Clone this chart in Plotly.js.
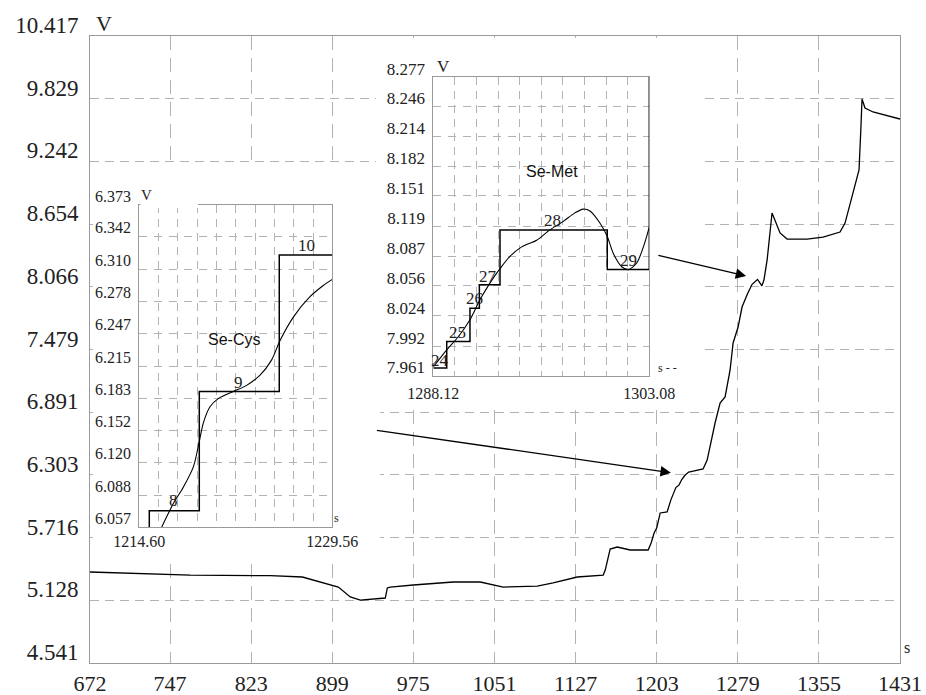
<!DOCTYPE html>
<html><head><meta charset="utf-8">
<script src="https://cdn.plot.ly/plotly-3.0.1.min.js"></script>
<style>html,body{margin:0;padding:0;background:#fff}#chart{width:926px;height:695px}</style>
</head><body><div id="chart"></div>
<script>
// ---------- DATA ----------
const mainXTicks = [672, 747, 823, 899, 975, 1051, 1127, 1203, 1279, 1355, 1431];
const mainYTickText = ['4.541','5.128','5.716','6.303','6.891','7.479','8.066','8.654','9.242','9.829','10.417'];
const mainX = [672, 766, 841, 871, 904.7, 915.9, 925.3, 948.7, 950.6, 953.4, 974.9, 1012.4, 1037.7, 1059.2, 1091.1, 1106.0, 1128.5, 1152.9, 1154.8, 1159.4, 1166.0, 1178.2, 1195.0, 1197.8, 1200.6, 1203.0, 1206.3, 1212.8, 1216.3, 1219.2, 1221.0, 1224.0, 1226.5, 1229.5, 1233.0, 1237.2, 1246.5, 1250.3, 1254.9, 1257.7, 1262.4, 1267.1, 1271.8, 1274.6, 1279.3, 1283.0, 1288.0, 1292.4, 1297.5, 1301.6, 1303.5, 1306.5, 1311.1, 1313.9, 1318.6, 1325.2, 1343.9, 1358.9, 1374.8, 1379.5, 1387.0, 1392.6, 1394.4, 1395.4, 1398.2, 1405.7, 1431];
const mainY = [5.394, 5.365, 5.359, 5.347, 5.253, 5.160, 5.131, 5.150, 5.244, 5.253, 5.272, 5.300, 5.300, 5.253, 5.262, 5.291, 5.347, 5.365, 5.412, 5.609, 5.628, 5.600, 5.600, 5.665, 5.759, 5.806, 5.947, 5.956, 6.07, 6.15, 6.185, 6.21, 6.26, 6.30, 6.33, 6.340, 6.359, 6.443, 6.659, 6.790, 6.977, 7.034, 7.287, 7.540, 7.690, 7.877, 8.00, 8.09, 8.135, 8.075, 8.13, 8.318, 8.758, 8.693, 8.571, 8.514, 8.514, 8.533, 8.580, 8.664, 8.946, 9.161, 9.564, 9.827, 9.742, 9.705, 9.639];

// Se-Cys inset
const cysXRange = [1214.60, 1229.56];
const cysXTickText = ['1214.60', '1229.56'];
const cysYTickText = ['6.057','6.088','6.120','6.152','6.183','6.215','6.247','6.278','6.310','6.342','6.373'];
const cysStepX = [1215.375, 1215.375, 1219.25, 1219.25, 1225.45, 1225.45, 1229.56];
const cysStepY = [6.057, 6.073, 6.073, 6.190, 6.190, 6.324, 6.324];
const cysCurveX = [1216.34, 1217.24, 1218.01, 1218.79, 1219.17, 1219.56, 1220.08, 1220.72, 1221.89, 1222.92, 1223.96, 1224.86, 1225.51, 1226.54, 1227.83, 1228.86, 1229.56];
const cysCurveY = [6.057, 6.080, 6.096, 6.116, 6.136, 6.159, 6.175, 6.183, 6.190, 6.196, 6.206, 6.221, 6.240, 6.263, 6.283, 6.294, 6.300];
const cysLabels = ['8', '9', '10'];
const cysLabelX = [1217.24, 1222.27, 1227.57];
const cysLabelY = [6.083, 6.199, 6.333];

// Se-Met inset
const metXRange = [1288.12, 1303.08];
const metXTickText = ['1288.12', '1303.08'];
const metYTickText = ['7.961','7.992','8.024','8.056','8.087','8.119','8.151','8.182','8.214','8.246','8.277'];
const metStepX = [1288.12, 1289.05, 1289.05, 1290.66, 1290.66, 1291.31, 1291.31, 1292.74, 1292.74, 1300.17, 1300.17, 1303.08, 1303.08];
const metStepY = [7.969, 7.969, 7.997, 7.997, 8.032, 8.032, 8.057, 8.057, 8.115, 8.115, 8.073, 8.073, 8.277];
const metCurveX = [1288.12, 1289.05, 1289.85, 1290.66, 1291.35, 1292.05, 1292.74, 1293.43, 1294.24, 1295.28, 1296.20, 1297.12, 1297.93, 1298.51, 1298.97, 1299.67, 1300.17, 1300.59, 1301.17, 1301.63, 1302.21, 1302.67, 1303.08];
const metCurveY = [7.970, 7.988, 8.002, 8.020, 8.041, 8.059, 8.074, 8.087, 8.097, 8.104, 8.115, 8.124, 8.133, 8.137, 8.135, 8.122, 8.108, 8.090, 8.076, 8.073, 8.080, 8.097, 8.118];
const metLabels = ['24', '25', '26', '27', '28', '29'];
const metLabelX = [1288.58, 1289.78, 1290.94, 1291.93, 1296.39, 1301.63];
const metLabelY = [7.977, 8.006, 8.042, 8.066, 8.125, 8.083];

// ---------- LAYOUT HELPERS ----------
const L = 90, R = 900, T = 36, B = 663;
function px(x) { return (x - L) / (R - L); }
function py(y) { return (B - y) / (B - T); }
const serif = 'Liberation Serif, Times New Roman, serif';
const sans = 'Liberation Sans, Arial, sans-serif';
const frameC = '#9a9a9a', gridC = '#b3b3b3', txt = '#222';

function gridVals(r) { const v = []; for (let i = 0; i <= 10; i++) v.push(r[0] + (r[1] - r[0]) * i / 10); return v; }
function endText(t) { const a = []; for (let i = 0; i <= 10; i++) a.push(i === 0 ? t[0] : (i === 10 ? t[1] : '')); return a; }

const traces = [
  {x: mainX, y: mainY, xaxis: 'x', yaxis: 'y', mode: 'lines', line: {color: '#000', width: 1.3}, hoverinfo: 'skip'},
  {x: [], y: [], xaxis: 'x2', yaxis: 'y2', mode: 'lines', hoverinfo: 'skip'},
  {x: [], y: [], xaxis: 'x3', yaxis: 'y3', mode: 'lines', hoverinfo: 'skip'},
  {x: cysStepX, y: cysStepY, xaxis: 'x4', yaxis: 'y4', mode: 'lines', line: {color: '#000', width: 1.5}, hoverinfo: 'skip'},
  {x: cysCurveX, y: cysCurveY, xaxis: 'x4', yaxis: 'y4', mode: 'lines', line: {color: '#000', width: 1.1, shape: 'spline', smoothing: 0.8}, hoverinfo: 'skip'},
  {x: metStepX, y: metStepY, xaxis: 'x5', yaxis: 'y5', mode: 'lines', line: {color: '#000', width: 1.5}, hoverinfo: 'skip'},
  {x: metCurveX, y: metCurveY, xaxis: 'x5', yaxis: 'y5', mode: 'lines', line: {color: '#000', width: 1.1, shape: 'spline', smoothing: 0.8}, hoverinfo: 'skip'}
];

const hidden = {visible: false, range: [0, 1], fixedrange: true};
const insetAx = {showgrid: true, gridcolor: gridC, gridwidth: 1, showline: true, linecolor: frameC, linewidth: 1, mirror: true, ticks: '', zeroline: false, fixedrange: true, tickmode: 'array'};

const layout = {
  width: 926, height: 695,
  margin: {l: 90, r: 26, t: 36, b: 32},
  paper_bgcolor: '#ffffff', plot_bgcolor: '#ffffff',
  showlegend: false,
  xaxis: Object.assign({}, insetAx, {
    domain: [0, 1], anchor: 'y', range: [672, 1431],
    tickvals: mainXTicks, ticktext: mainXTicks.map(String),
    griddash: '14px,8px',
    tickfont: {family: serif, size: 22, color: txt}, ticklabelstandoff: 1
  }),
  yaxis: Object.assign({}, insetAx, {
    domain: [0, 1], anchor: 'x', range: [4.541, 10.417],
    tickvals: mainYTickText.map(Number), ticktext: mainYTickText,
    griddash: '9px,6px',
    tickfont: {family: serif, size: 23, color: txt}, ticklabelstandoff: 6, ticklabelshift: -11
  }),
  xaxis2: Object.assign({}, hidden, {domain: [px(93), px(380)], anchor: 'y2'}),
  yaxis2: Object.assign({}, hidden, {domain: [py(562), py(164)], anchor: 'x2'}),
  xaxis3: Object.assign({}, hidden, {domain: [px(376), px(703)], anchor: 'y3'}),
  yaxis3: Object.assign({}, hidden, {domain: [py(407), py(38)], anchor: 'x3'}),
  xaxis4: Object.assign({}, insetAx, {
    domain: [px(139.3), px(332.3)], anchor: 'y4', range: cysXRange,
    tickvals: gridVals(cysXRange), ticktext: endText(cysXTickText), griddash: '8px,6px',
    tickfont: {family: serif, size: 16, color: txt}, ticklabelstandoff: 0
  }),
  yaxis4: Object.assign({}, insetAx, {
    domain: [py(527), py(205)], anchor: 'x4', range: [6.057, 6.373],
    tickvals: cysYTickText.map(Number), ticktext: cysYTickText, griddash: '8px,7px',
    tickfont: {family: serif, size: 16, color: txt}, ticklabelstandoff: 4, ticklabelshift: -9
  }),
  xaxis5: Object.assign({}, insetAx, {
    domain: [px(433.3), px(649.3)], anchor: 'y5', range: metXRange,
    tickvals: gridVals(metXRange), ticktext: endText(metXTickText), griddash: '8px,6px',
    tickfont: {family: serif, size: 16, color: txt}, ticklabelstandoff: 3
  }),
  yaxis5: Object.assign({}, insetAx, {
    domain: [py(375.5), py(76.7)], anchor: 'x5', range: [7.961, 8.277],
    tickvals: metYTickText.map(Number), ticktext: metYTickText, griddash: '8px,7px',
    tickfont: {family: serif, size: 17, color: txt}, ticklabelstandoff: 4, ticklabelshift: -8
  }),
  shapes: [
    {type: 'rect', xref: 'paper', yref: 'paper', x0: px(140.5), x1: px(198), y0: py(208), y1: py(202),
     fillcolor: '#ffffff', line: {width: 0}, layer: 'above'}
  ],
  annotations: []
};

const ann = layout.annotations;
function paperText(text, x, y, size, family, extra) {
  ann.push(Object.assign({text: text, xref: 'paper', yref: 'paper', x: px(x), y: py(y), xanchor: 'center', yanchor: 'middle',
    showarrow: false, font: {family: family || serif, size: size, color: txt}}, extra || {}));
}
// unit labels
paperText('V', 104, 24, 22);
paperText('V', 146, 195, 15);
paperText('V', 443, 67, 17);
paperText('s', 907, 647, 16);
paperText('s', 336, 518, 12);
paperText('s - -', 667, 368, 12);

cysLabels.forEach((t, i) => ann.push({text: t, xref: 'x4', yref: 'y4', x: cysLabelX[i], y: cysLabelY[i], showarrow: false,
  font: {family: serif, size: 17, color: txt}}));
ann.push({text: 'Se-Cys', xref: 'x4', yref: 'y4', x: 1221.94, y: 6.241, showarrow: false, font: {family: sans, size: 16, color: '#111'}});
metLabels.forEach((t, i) => ann.push({text: t, xref: 'x5', yref: 'y5', x: metLabelX[i], y: metLabelY[i], showarrow: false,
  font: {family: serif, size: 17, color: txt}}));
ann.push({text: 'Se-Met', xref: 'x5', yref: 'y5', x: 1296.32, y: 8.177, showarrow: false, font: {family: sans, size: 16, color: '#111'}});

// arrows pointing from insets to the main curve
ann.push({text: '', xref: 'x', yref: 'y', x: 1216.3, y: 6.324, axref: 'x', ayref: 'y', ax: 939.4, ay: 6.724,
  showarrow: true, arrowhead: 2, arrowsize: 1.6, arrowwidth: 1.3, arrowcolor: '#000', standoff: 0});
ann.push({text: '', xref: 'x', yref: 'y', x: 1286.8, y: 8.168, axref: 'x', ayref: 'y', ax: 1203.2, ay: 8.364,
  showarrow: true, arrowhead: 2, arrowsize: 1.6, arrowwidth: 1.3, arrowcolor: '#000', standoff: 0});

Plotly.newPlot('chart', traces, layout, {staticPlot: true, displayModeBar: false});
</script>
</body></html>
